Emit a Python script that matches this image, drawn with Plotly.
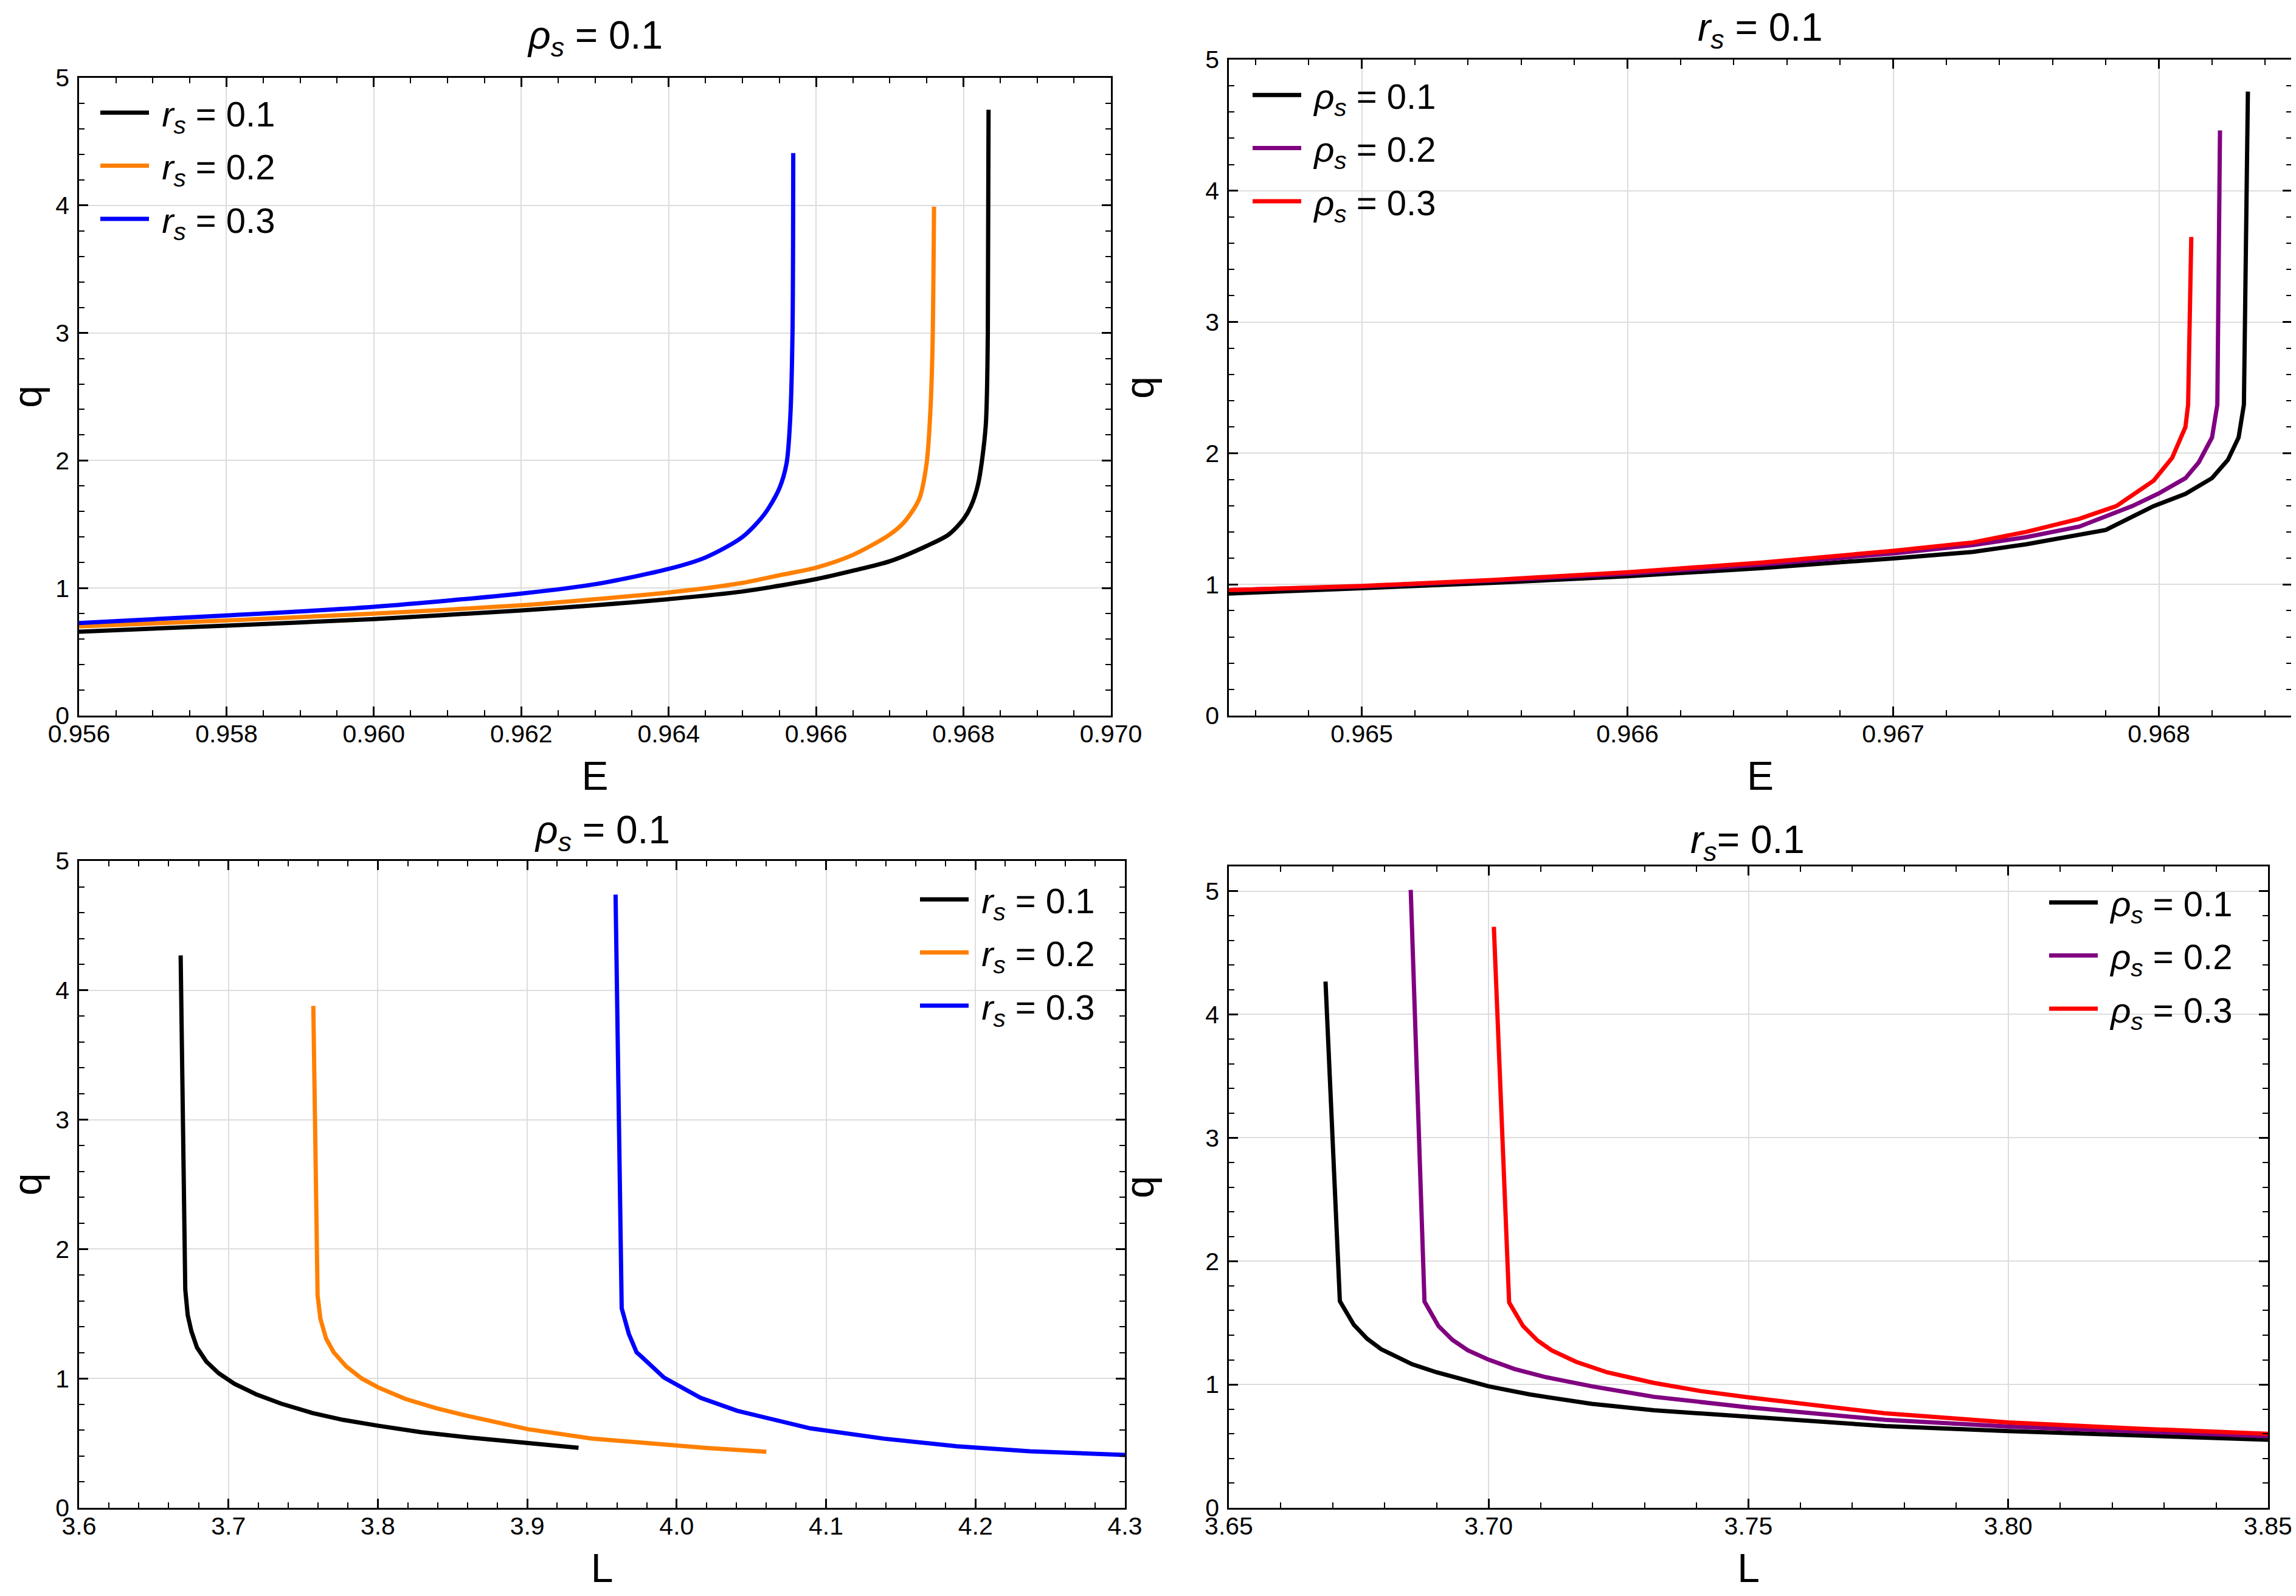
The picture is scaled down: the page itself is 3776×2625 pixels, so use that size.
import plotly.graph_objects as go

W, H = 3776, 2625

# ---------------- data ----------------
# Top-left: q vs E, rho_s = 0.1
tl_E_r1 = [0.956, 0.958, 0.960, 0.962, 0.963, 0.964, 0.965, 0.966, 0.9665, 0.967, 0.9675, 0.9678, 0.968, 0.9681, 0.9682, 0.9683, 0.96833, 0.96834]
tl_q_r1 = [0.658, 0.706, 0.757, 0.825, 0.865, 0.913, 0.973, 1.07, 1.136, 1.21, 1.33, 1.42, 1.54, 1.64, 1.82, 2.26, 3.0, 4.75]
tl_E_r2 = [0.956, 0.958, 0.960, 0.962, 0.963, 0.964, 0.965, 0.9655, 0.966, 0.9665, 0.967, 0.9672, 0.9674, 0.9675, 0.96755, 0.96758, 0.9676]
tl_q_r2 = [0.70, 0.746, 0.80, 0.865, 0.913, 0.965, 1.04, 1.10, 1.16, 1.26, 1.42, 1.52, 1.70, 1.98, 2.38, 2.9, 3.99]
tl_E_r3 = [0.956, 0.958, 0.960, 0.962, 0.963, 0.964, 0.9645, 0.965, 0.9653, 0.9655, 0.9656, 0.96565, 0.96568, 0.96569]
tl_q_r3 = [0.726, 0.785, 0.853, 0.957, 1.03, 1.15, 1.24, 1.40, 1.58, 1.78, 1.98, 2.34, 3.0, 4.41]

# Top-right: q vs E, r_s = 0.1
tr_E_p1 = [0.9645, 0.965, 0.9655, 0.966, 0.9665, 0.967, 0.9673, 0.9675, 0.9678, 0.96798, 0.9681, 0.9682, 0.96826, 0.9683, 0.96832, 0.968335]
tr_q_p1 = [0.930, 0.969, 1.012, 1.062, 1.124, 1.198, 1.248, 1.306, 1.415, 1.597, 1.69, 1.81, 1.95, 2.12, 2.37, 4.756]
tr_E_p2 = [0.9645, 0.965, 0.9655, 0.966, 0.9665, 0.967, 0.9673, 0.9675, 0.9677, 0.9679, 0.968, 0.9681, 0.96815, 0.9682, 0.96822, 0.96823]
tr_q_p2 = [0.957, 0.985, 1.03, 1.081, 1.15, 1.236, 1.30, 1.36, 1.44, 1.597, 1.694, 1.81, 1.93, 2.12, 2.37, 4.46]
tr_E_p3 = [0.9645, 0.965, 0.9655, 0.966, 0.9665, 0.967, 0.9673, 0.9675, 0.9677, 0.96784, 0.96798, 0.96805, 0.9681, 0.96811, 0.968122]
tr_q_p3 = [0.957, 0.988, 1.035, 1.093, 1.165, 1.256, 1.32, 1.40, 1.50, 1.597, 1.79, 1.965, 2.2, 2.37, 3.648]

# Bottom-left: q vs L, rho_s = 0.1
bl_L_r1 = [3.668, 3.6711, 3.67274, 3.67522, 3.67897, 3.68521, 3.69352, 3.70395, 3.7185, 3.73513, 3.75591, 3.77669, 3.8, 3.82869, 3.85987, 3.9004, 3.93431]
bl_q_r1 = [4.27, 1.687, 1.489, 1.364, 1.238, 1.130, 1.040, 0.959, 0.878, 0.806, 0.734, 0.680, 0.635, 0.585, 0.545, 0.500, 0.464]
bl_L_r2 = [3.7568, 3.75966, 3.76153, 3.76528, 3.77046, 3.77877, 3.78916, 3.8, 3.8183, 3.83908, 3.85987, 3.9004, 3.94304, 3.97796, 4.02, 4.06]
bl_q_r2 = [3.88, 1.642, 1.462, 1.310, 1.202, 1.094, 1.000, 0.932, 0.842, 0.770, 0.711, 0.608, 0.536, 0.500, 0.463, 0.433]
bl_L_r3 = [3.9591, 3.9632, 3.96797, 3.97315, 3.9768, 3.9915, 4.016, 4.0405, 4.0895, 4.1385, 4.1875, 4.2365, 4.3]
bl_q_r3 = [4.74, 1.543, 1.345, 1.202, 1.165, 1.007, 0.85, 0.75, 0.614, 0.535, 0.476, 0.437, 0.409]

# Bottom-right: q vs L, r_s = 0.1
br_L_p1 = [3.6686, 3.67136, 3.67405, 3.67661, 3.6793, 3.68198, 3.68527, 3.69004, 3.69481, 3.70, 3.70794, 3.71987, 3.73179, 3.75, 3.7763, 3.80, 3.825, 3.85]
br_q_p1 = [4.267, 1.676, 1.484, 1.371, 1.286, 1.230, 1.164, 1.098, 1.041, 0.985, 0.919, 0.843, 0.791, 0.736, 0.663, 0.622, 0.589, 0.552]
br_L_p2 = [3.685, 3.68765, 3.69034, 3.69302, 3.696, 3.70, 3.70496, 3.71092, 3.71987, 3.73179, 3.75, 3.7763, 3.80, 3.825, 3.85]
br_q_p2 = [5.01, 1.672, 1.474, 1.362, 1.277, 1.201, 1.126, 1.060, 0.985, 0.900, 0.815, 0.713, 0.659, 0.618, 0.58]
br_L_p3 = [3.701, 3.70394, 3.70662, 3.70942, 3.71211, 3.71688, 3.72285, 3.73179, 3.74075, 3.75, 3.7763, 3.80, 3.825, 3.85]
br_q_p3 = [4.71, 1.665, 1.474, 1.356, 1.277, 1.183, 1.098, 1.013, 0.947, 0.896, 0.766, 0.692, 0.642, 0.60]

NB = "\u00a0"
r_labels = [NB + "<i>r</i><sub><i>s</i></sub> = 0.1", NB + "<i>r</i><sub><i>s</i></sub> = 0.2", NB + "<i>r</i><sub><i>s</i></sub> = 0.3"]
p_labels = [NB + "<i>ρ</i><sub><i>s</i></sub> = 0.1", NB + "<i>ρ</i><sub><i>s</i></sub> = 0.2", NB + "<i>ρ</i><sub><i>s</i></sub> = 0.3"]
titles = ["<i>ρ</i><sub><i>s</i></sub> = 0.1", "<i>r</i><sub><i>s</i></sub> = 0.1",
          "<i>ρ</i><sub><i>s</i></sub> = 0.1", "<i>r</i><sub><i>s</i></sub>= 0.1"]

C_R = ["#000000", "#FF8000", "#0000FF"]
C_P = ["#000000", "#800080", "#FF0000"]

FONT = "Liberation Sans, Arial, sans-serif"
LW = 7

fig = go.Figure()

def add(xs, ys, name, color, ax, leg, grp, shape="linear"):
    fig.add_trace(go.Scatter(x=xs, y=ys, mode="lines", name=name,
                             line=dict(color=color, width=LW, shape=shape,
                                       smoothing=0.8 if shape == "spline" else None),
                             xaxis="x" + ax, yaxis="y" + ax,
                             legend=leg, legendgroup=grp))

add(tl_E_r1, tl_q_r1, r_labels[0], C_R[0], "", "legend", "a1", "spline")
add(tl_E_r2, tl_q_r2, r_labels[1], C_R[1], "", "legend", "a2", "spline")
add(tl_E_r3, tl_q_r3, r_labels[2], C_R[2], "", "legend", "a3", "spline")
add(tr_E_p1, tr_q_p1, p_labels[0], C_P[0], "2", "legend2", "b1")
add(tr_E_p2, tr_q_p2, p_labels[1], C_P[1], "2", "legend2", "b2")
add(tr_E_p3, tr_q_p3, p_labels[2], C_P[2], "2", "legend2", "b3")
add(bl_L_r1, bl_q_r1, r_labels[0], C_R[0], "3", "legend3", "c1")
add(bl_L_r2, bl_q_r2, r_labels[1], C_R[1], "3", "legend3", "c2")
add(bl_L_r3, bl_q_r3, r_labels[2], C_R[2], "3", "legend3", "c3")
add(br_L_p1, br_q_p1, p_labels[0], C_P[0], "4", "legend4", "d1")
add(br_L_p2, br_q_p2, p_labels[1], C_P[1], "4", "legend4", "d2")
add(br_L_p3, br_q_p3, p_labels[2], C_P[2], "4", "legend4", "d3")

def px_x(v):
    return v / W

def px_y(v):
    return 1 - v / H

def axis_style(domain, rng, dtick, minor_dtick, fmt, title, anchor, is_x):
    d = dict(
        domain=domain, range=rng, dtick=dtick, tick0=0, tickformat=fmt,
        showline=True, linecolor="black", linewidth=2.5, mirror="ticks",
        ticks="inside", ticklen=15, tickwidth=2.5, tickcolor="black",
        minor=dict(ticks="inside", ticklen=9, tickwidth=2, tickcolor="black",
                   dtick=minor_dtick, tick0=0, showgrid=False),
        showgrid=True, gridcolor="#dddddd", gridwidth=2, zeroline=False,
        tickfont=dict(size=41, color="black", family=FONT),
        ticklabelstandoff=-8 if is_x else 5,
        title=dict(text=title, font=dict(size=66, color="black", family=FONT),
                   standoff=24 if is_x else 64),
        anchor=anchor, fixedrange=True, automargin=False,
    )
    return d

lay = dict(
    width=W, height=H, margin=dict(l=0, r=0, t=0, b=0, pad=0, autoexpand=False),
    paper_bgcolor="white", plot_bgcolor="white",
    font=dict(family=FONT, color="black"),
    showlegend=True,
)

xd = {
    "": [px_x(122), px_x(1819)],
    "2": [px_x(2013), px_x(3761)],
    "3": [px_x(122), px_x(1842)],
    "4": [px_x(2013), px_x(3722)],
}
yd = {
    "": [px_y(1169), px_y(120)],
    "2": [px_y(1169), px_y(90)],
    "3": [px_y(2472), px_y(1408)],
    "4": [px_y(2472), px_y(1417)],
}
xr = {"": ([0.956, 0.970], 0.002, 0.0005, ".3f", "E"),
      "2": ([0.9645, 0.9685], 0.001, 0.0002, ".3f", "E"),
      "3": ([3.6, 4.3], 0.1, 0.02, ".1f", "L"),
      "4": ([3.65, 3.85], 0.05, 0.01, ".2f", "L")}
yr = {"": [0, 5], "2": [0, 5], "3": [0, 5], "4": [0, 5.2]}

for k in ["", "2", "3", "4"]:
    rng, dt, mdt, fmt, ttl = xr[k]
    lay["xaxis" + k] = axis_style(xd[k], rng, dt, mdt, fmt, ttl, "y" + k, True)
    lay["yaxis" + k] = axis_style(yd[k], yr[k], 1, 0.2, "d", "q", "x" + k, False)

def legend_at(xl, ytop):
    return dict(x=px_x(xl), y=px_y(ytop), xanchor="left", yanchor="top",
                bgcolor="rgba(0,0,0,0)", borderwidth=0,
                font=dict(size=58, color="black", family=FONT),
                itemwidth=80, tracegroupgap=9, traceorder="grouped")

lay["legend"] = legend_at(152, 133)
lay["legend2"] = legend_at(2047, 104)
lay["legend3"] = legend_at(1500, 1427)
lay["legend4"] = legend_at(3357, 1432)

fig.update_layout(**lay)

title_pos = [(970, 54), (2887, 41), (982, 1361), (2866, 1377)]
for t, (cx, cy) in zip(titles, title_pos):
    fig.add_annotation(text=t, x=px_x(cx), y=px_y(cy), xref="paper", yref="paper",
                       xanchor="center", yanchor="middle", showarrow=False,
                       font=dict(size=64, color="black", family=FONT))

fig.write_html("out.html")
